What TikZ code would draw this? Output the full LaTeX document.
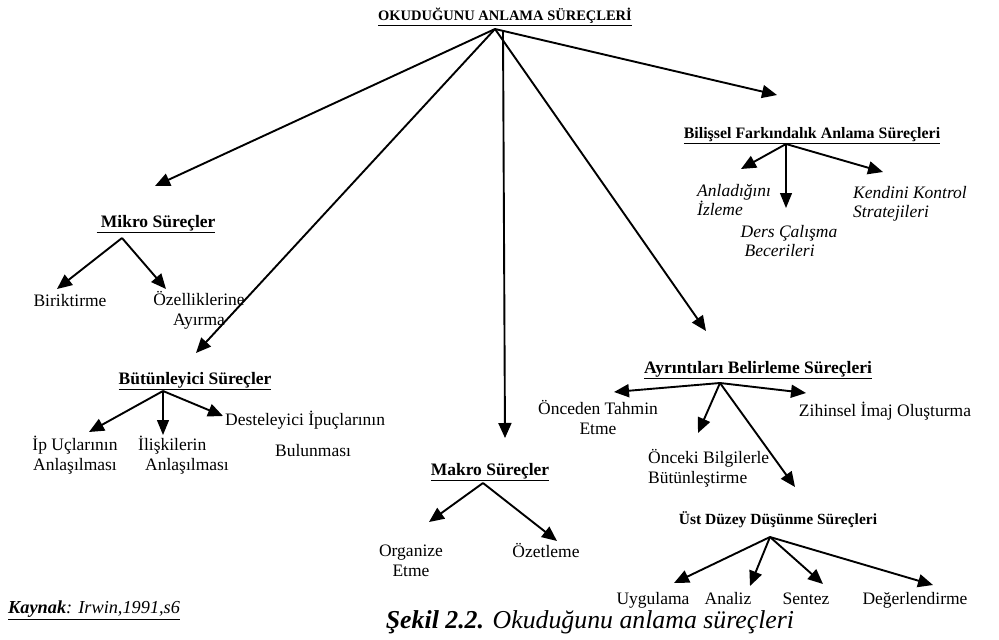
\documentclass[tikz,border=0pt]{standalone}
\usepackage{fontspec}
\setmainfont{Liberation Serif}
\usetikzlibrary{arrows.meta}
\tikzset{
  arr/.style={line width=1.9pt,-{Triangle[length=15pt,width=13pt]}},
  thinarr/.style={line width=1.2pt,-{Triangle[length=15pt,width=12pt]}},
  lbl/.style={inner sep=0pt,font=\fontsize{17.5}{20}\selectfont},
  ilbl/.style={inner sep=0pt,font=\fontsize{17.5}{19}\selectfont\itshape},
  head/.style={inner sep=0pt,font=\fontsize{17.5}{20}\selectfont\bfseries},
}
\begin{document}
\begin{tikzpicture}[x=1pt,y=-1pt]
\useasboundingbox (0,0) rectangle (999,640);
% title
\node[inner sep=0pt,font=\fontsize{14.5}{16}\selectfont\bfseries] (title) at (505,17) {\underline{OKUDUĞUNU ANLAMA SÜREÇLERİ}};
\coordinate (hub) at (495,29);
\coordinate (hubm) at (503,31);
% level 1 headings
\node[head,font=\fontsize{15.9}{18}\selectfont\bfseries] (bil) at (812,136) {\underline{Bilişsel Farkındalık Anlama Süreçleri}};
\node[head] (mik) at (156,224) {\underline{\ Mikro Süreçler}};
\node[head] (but) at (195,381) {\underline{Bütünleyici Süreçler}};
\node[head] (mak) at (490,472) {\underline{Makro Süreçler}};
\node[head] (ayr) at (758,370) {\underline{Ayrıntıları Belirleme Süreçleri}};
\node[head,font=\fontsize{15.5}{18}\selectfont\bfseries] (ust) at (778,520) {Üst Düzey Düşünme Süreçleri};
% tips of title arrows
\coordinate (tbil) at (777,95);
\coordinate (tmik) at (155,186);
\coordinate (tbut) at (196,353);
\coordinate (tmak) at (505,438);
\coordinate (tayr) at (706,331);
\draw[arr] (hub) -- (tbil);
\draw[arr] (hub) -- (tmik);
\draw[arr] (hub) -- (tbut);
\draw[arr] (hubm) -- (tmak);
\draw[arr] (hub) -- (tayr);
% Bilissel children
\coordinate (hbil) at (786,144);
\node[ilbl,anchor=west,align=left] (bil1) at (697,200) {Anladığını\\İzleme};
\node[ilbl,align=left] (bil2) at (789,241) {Ders Çalışma\\\hspace*{4pt}Becerileri};
\node[ilbl,anchor=west,align=left] (bil3) at (853,204) {Kendini Kontrol\\Stratejileri};
\coordinate (tb1) at (741,169);
\coordinate (tb2) at (786,208);
\coordinate (tb3) at (883,172);
\draw[arr] (hbil) -- (tb1);
\draw[thinarr] (hbil) -- (tb2);
\draw[arr] (hbil) -- (tb3);
% Mikro children
\coordinate (hmik) at (122,238);
\node[lbl,anchor=base] (mik1) at (70,306) {Biriktirme};
\node[lbl,align=center] (mik2) at (199,310) {Özelliklerine\\Ayırma};
\coordinate (tm1) at (57,289);
\coordinate (tm2) at (166,289);
\draw[arr] (hmik) -- (tm1);
\draw[arr] (hmik) -- (tm2);
% Butunleyici children
\coordinate (hbut) at (163,391);
\node[lbl,align=center] (but1) at (75,455) {İp Uçlarının\\Anlaşılması};
\node[lbl,anchor=west,align=left] (but2) at (138,455) {İlişkilerin\\\hspace*{7pt}Anlaşılması};
\node[lbl,anchor=west,align=left] (but3) at (225,434) {Desteleyici İpuçlarının\\[11pt]\hspace*{50pt}Bulunması};
\coordinate (tu1) at (89,432);
\coordinate (tu2) at (163,435);
\coordinate (tu3) at (223,416);
\draw[arr] (hbut) -- (tu1);
\draw[thinarr] (hbut) -- (tu2);
\draw[arr] (hbut) -- (tu3);
% Makro children
\coordinate (hmak) at (483,483);
\node[lbl,align=center] (mak1) at (411,561) {Organize\\Etme};
\node[lbl,anchor=base] (mak2) at (546,557) {Özetleme};
\coordinate (tk1) at (429,522);
\coordinate (tk2) at (557,541);
\draw[arr] (hmak) -- (tk1);
\draw[arr] (hmak) -- (tk2);
% Ayrintilari children
\coordinate (hayr) at (720,383);
\node[lbl,align=center] (ayr1) at (598,417) {Önceden Tahmin\\Etme};
\node[lbl,anchor=west,align=left] (ayr2) at (648,468) {Önceki Bilgilerle\\Bütünleştirme};
\node[lbl,anchor=base] (ayr3) at (885,416) {Zihinsel İmaj Oluşturma};
\coordinate (ta1) at (614,392);
\coordinate (ta2) at (698,433);
\coordinate (ta3) at (806,393);
\coordinate (ta4) at (795,487);
\draw[arr] (hayr) -- (ta1);
\draw[arr] (hayr) -- (ta2);
\draw[arr] (hayr) -- (ta3);
\draw[arr] (hayr) -- (ta4);
% Ust duzey children
\coordinate (hust) at (770,537);
\node[lbl,anchor=base] (ust1) at (653,604) {Uygulama};
\node[lbl,anchor=base] (ust2) at (728,604) {Analiz};
\node[lbl,anchor=base] (ust3) at (806,604) {Sentez};
\node[lbl,anchor=base] (ust4) at (915,604) {Değerlendirme};
\coordinate (ts1) at (674,583);
\coordinate (ts2) at (750,586);
\coordinate (ts3) at (823,584);
\coordinate (ts4) at (933,585);
\draw[arr] (hust) -- (ts1);
\draw[arr] (hust) -- (ts2);
\draw[arr] (hust) -- (ts3);
\draw[arr] (hust) -- (ts4);
% caption and source
\node[inner sep=0pt,font=\fontsize{25.8}{28}\selectfont\itshape] (cap) at (590,622) {\textbf{Şekil 2.2.} Okuduğunu anlama süreçleri};
\node[inner sep=0pt,anchor=west,font=\fontsize{18.3}{20}\selectfont\itshape] (src) at (8,610) {\underline{\textbf{Kaynak}: Irwin,1991,s6}};
\end{tikzpicture}
\end{document}
